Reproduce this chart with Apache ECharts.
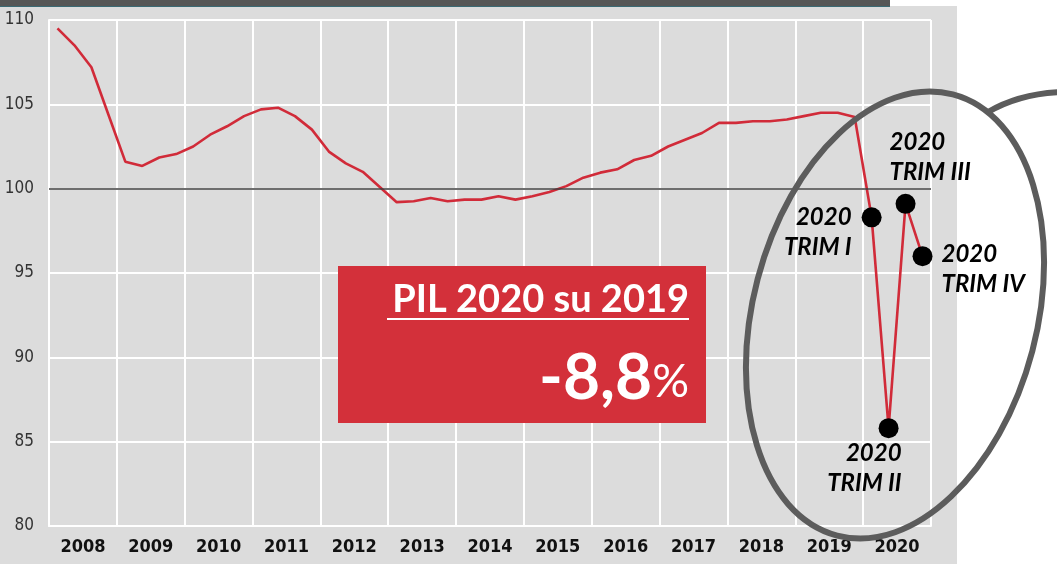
<!DOCTYPE html>
<html>
<head>
<meta charset="utf-8">
<script src="https://cdn.jsdelivr.net/npm/echarts@6.0.0/dist/echarts.min.js"></script>
<style>
  html, body { margin: 0; padding: 0; background: #fff; }
  #chart { width: 1057px; height: 564px; }
</style>
</head>
<body>
<div id="chart"></div>
<script>
// anni (etichette asse x)
const years = ['2008', '2009', '2010', '2011', '2012', '2013', '2014', '2015', '2016', '2017', '2018', '2019', '2020'];

// PIL trimestrale, indice
const pil = [
  109.5, 108.5, 107.2, 104.4,   // 2008
  101.6, 101.35, 101.85, 102.05, // 2009
  102.5, 103.2, 103.7, 104.3,   // 2010
  104.7, 104.8, 104.3, 103.5,   // 2011
  102.2, 101.5, 101.0, 100.1,   // 2012
  99.2, 99.25, 99.45, 99.25,    // 2013
  99.35, 99.35, 99.55, 99.35,   // 2014
  99.55, 99.8, 100.15, 100.65,  // 2015
  100.95, 101.15, 101.7, 101.95, // 2016
  102.5, 102.9, 103.3, 103.9,   // 2017
  103.9, 104.0, 104.0, 104.1,   // 2018
  104.3, 104.5, 104.5, 104.25,  // 2019
  98.3, 85.8, 99.1, 96.0        // 2020
];

// trimestri 2020 evidenziati
const trimIdx = [48, 49, 50, 51];
const trimLabels = ['2020\nTRIM I', '2020\nTRIM II', '2020\nTRIM III', '2020\nTRIM IV'];

const yTicks = { min: 80, max: 110, interval: 5 };

const quarters = [];
years.forEach((y) => {
  ['T1', 'T2', 'T3', 'T4'].forEach((q) => quarters.push(y + ' ' + q));
});

const RED = '#d12b39';
const labelFont = {
  fontFamily: 'Lato',
  fontWeight: 'bold',
  fontStyle: 'italic',
  fontSize: 24,
  lineHeight: 30,
  color: '#000',
  opacity: 1,
};

// Posizione etichette dei punti (rispetto al simbolo)
const labelPos = [
  { position: [-10, -5], align: 'right' },
  { position: [23, 20], align: 'right' },
  { position: [-6, -67], align: 'left' },
  { position: [29, -7], align: 'left' },
];

const chart = echarts.init(document.getElementById('chart'), null, { renderer: 'canvas' });

chart.setOption({
  animation: false,
  backgroundColor: '#fff',
  grid: { left: 49, right: 126, top: 20, bottom: 38, containLabel: false },
  xAxis: [
    {
      type: 'category',
      data: quarters,
      boundaryGap: true,
      show: false,
    },
    {
      type: 'category',
      data: years,
      boundaryGap: true,
      position: 'bottom',
      axisLine: { show: true, lineStyle: { color: '#fff', width: 2 } },
      axisTick: { show: false },
      axisLabel: {
        color: '#111',
        fontFamily: "'Liberation Sans Narrow', 'DejaVu Sans Condensed', sans-serif",
        fontWeight: 'bold',
        fontSize: 18,
        margin: 12,
      },
      splitLine: { show: true, lineStyle: { color: '#fff', width: 2 } },
    },
  ],
  yAxis: {
    type: 'value',
    min: yTicks.min,
    max: yTicks.max,
    interval: yTicks.interval,
    axisLine: { show: true, lineStyle: { color: '#fff', width: 2 } },
    axisTick: { show: false },
    axisLabel: {
      color: '#333',
      fontFamily: "'Liberation Sans Narrow', 'DejaVu Sans Condensed', sans-serif",
      fontSize: 17,
      margin: 15,
    },
    splitLine: { show: true, lineStyle: { color: '#fff', width: 2 } },
  },
  series: [
    {
      type: 'line',
      xAxisIndex: 0,
      data: pil,
      symbol: 'none',
      lineStyle: { color: RED, width: 2.6 },
      z: 3,
      markLine: {
        silent: true,
        symbol: 'none',
        label: { show: false },
        lineStyle: { color: '#3e3e3e', width: 1.5, type: 'solid' },
        data: [{ yAxis: 100 }],
      },
    },
    {
      type: 'scatter',
      xAxisIndex: 0,
      symbolSize: 20,
      itemStyle: { color: '#000', opacity: 1 },
      z: 5,
      data: trimIdx.map((idx, k) => ({
        value: [quarters[idx], pil[idx]],
        label: {
          show: true,
          formatter: trimLabels[k],
          verticalAlign: 'top',
          ...labelFont,
          ...labelPos[k],
        },
      })),
    },
  ],
  graphic: [
    // sfondo grigio
    { type: 'rect', z: -10, shape: { x: 0, y: 6, width: 957, height: 558 }, style: { fill: '#dcdcdc' } },
    // barra scura in alto
    { type: 'rect', z: 60, shape: { x: 0, y: 0, width: 890, height: 7 }, style: { fill: '#565656' } },
    { type: 'line', z: 61, shape: { x1: 0, y1: 6.5, x2: 890, y2: 6.5 }, style: { stroke: '#3b6a74', lineWidth: 1 } },
    // riquadro rosso
    { type: 'rect', z: 50, shape: { x: 338, y: 266, width: 368, height: 157 }, style: { fill: '#d3303a' } },
    {
      type: 'text', z: 51,
      style: {
        x: 689, y: 300, text: 'PIL 2020 su 2019',
        align: 'right', verticalAlign: 'middle',
        fill: '#fff', fontFamily: 'Lato', fontWeight: 'bold', fontSize: 38,
      },
    },
    { type: 'line', z: 51, shape: { x1: 387, y1: 319, x2: 689, y2: 319 }, style: { stroke: '#fff', lineWidth: 2 } },
    {
      type: 'text', z: 51,
      style: {
        x: 689, y: 378, text: '{a|-8,8}{b|%}',
        align: 'right', verticalAlign: 'middle',
        fill: '#fff',
        rich: {
          a: { fill: '#fff', fontFamily: 'Lato', fontWeight: 'bold', fontSize: 64 },
          b: { fill: '#fff', fontFamily: 'Lato', fontWeight: 'normal', fontSize: 46, padding: [8, 0, 0, 0] },
        },
      },
    },
    // ellisse
    {
      type: 'ellipse', z: 100,
      x: 895, y: 315, rotation: -0.2566,
      shape: { cx: 0, cy: 0, rx: 142, ry: 228 },
      style: { fill: null, stroke: '#5c5c5c', lineWidth: 6 },
    },
    // coda del fumetto
    {
      type: 'bezierCurve', z: 100,
      shape: { x1: 988, y1: 112, cpx1: 1012, cpy1: 98, cpx2: 1035, cpy2: 93, x2: 1062, y2: 92 },
      style: { fill: null, stroke: '#5c5c5c', lineWidth: 6 },
    },
  ],
});
</script>
</body>
</html>
